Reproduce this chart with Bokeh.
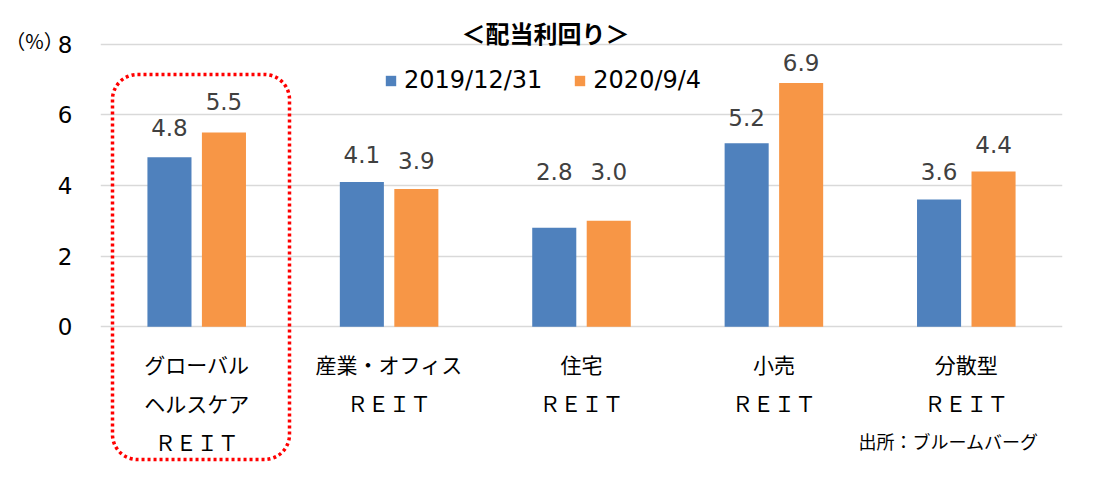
from bokeh.plotting import figure
from bokeh.models import (ColumnDataSource, FactorRange, Range1d, FixedTicker,
                          LabelSet, Legend, LegendItem)
from bokeh.transform import dodge
from bokeh.core.properties import value
from bokeh.embed import file_html
from bokeh.resources import INLINE

# ---------------- data ----------------
categories = [
    "グローバル\nヘルスケア\nＲＥＩＴ",
    "産業・オフィス\nＲＥＩＴ",
    "住宅\nＲＥＩＴ",
    "小売\nＲＥＩＴ",
    "分散型\nＲＥＩＴ",
]
series_labels = ["2019/12/31", "2020/9/4"]
yield_2019 = [4.8, 4.1, 2.8, 5.2, 3.6]
yield_2020 = [5.5, 3.9, 3.0, 6.9, 4.4]
y_ticks = [0, 2, 4, 6, 8]
title_text = "＜配当利回り＞"
unit_text = "（%）"
source_text = "出所：ブルームバーグ"

# ---------------- style / layout ----------------
BLUE = "#4F81BD"
ORANGE = "#F79646"
JP = "Noto Sans CJK JP"
NUM = "DejaVu Sans, Noto Sans CJK JP"
BAR_W = 0.229
OFF = 0.1416
Y0, Y1 = -0.05, 8.05
FRAME_L, FRAME_T, FRAME_W, FRAME_H = 100, 42, 962, 286
# pixel lift of each data label above its bar top (labels were placed by hand)
lift_2019 = [30, 27, 56, 26, 28]
lift_2020 = [31, 29, 49, 21, 27]


def px_x(px):
    """canvas pixel x -> synthetic categorical coordinate"""
    return (px - FRAME_L) / FRAME_W * len(categories)


def px_y(py):
    """canvas pixel y -> data y"""
    return Y1 - (py - FRAME_T) / FRAME_H * (Y1 - Y0)


p = figure(
    x_range=FactorRange(*categories, range_padding=0, factor_padding=0),
    y_range=Range1d(Y0, Y1),
    frame_width=FRAME_W, frame_height=FRAME_H,
    min_border_left=FRAME_L, min_border_right=41, min_border_top=FRAME_T,
    min_border_bottom=143,
    output_backend="svg", toolbar_location=None,
)
p.outline_line_color = None
p.background_fill_color = "white"
p.border_fill_color = "white"

p.xgrid.visible = False
p.ygrid.ticker = FixedTicker(ticks=y_ticks)
p.ygrid.grid_line_color = "#D9D9D9"
p.ygrid.grid_line_width = 1.5

p.yaxis.ticker = FixedTicker(ticks=y_ticks)
p.yaxis.axis_line_color = None
p.yaxis.major_tick_line_color = None
p.yaxis.minor_tick_line_color = None
p.yaxis.major_label_text_font = NUM
p.yaxis.major_label_text_font_size = "23px"
p.yaxis.major_label_text_color = "#000000"
p.yaxis.major_label_standoff = 22

p.xaxis.axis_line_color = None
p.xaxis.major_tick_line_color = None
p.xaxis.minor_tick_line_color = None
p.xaxis.major_label_text_font = JP
p.xaxis.major_label_text_font_size = "21px"
p.xaxis.major_label_text_color = "#000000"
p.xaxis.major_label_text_line_height = 1.31
p.xaxis.major_label_standoff = 14

src = ColumnDataSource(dict(cat=categories, a=yield_2019, b=yield_2020))
r1 = p.vbar(x=dodge("cat", -OFF, range=p.x_range), top="a", width=BAR_W,
            source=src, fill_color=BLUE, line_color=None)
r2 = p.vbar(x=dodge("cat", OFF, range=p.x_range), top="b", width=BAR_W,
            source=src, fill_color=ORANGE, line_color=None)

n = len(categories)
lab_src = ColumnDataSource(dict(
    x=[i + 0.5 - OFF for i in range(n)] + [i + 0.5 + OFF for i in range(n)],
    y=yield_2019 + yield_2020,
    t=[f"{v:.1f}" for v in yield_2019 + yield_2020],
    lift=lift_2019 + lift_2020,
))
p.add_layout(LabelSet(x="x", y="y", text="t", source=lab_src, y_offset="lift",
                      text_align="center", text_baseline="middle",
                      text_font=value(NUM), text_font_size=value("23px"),
                      text_color="#404040"))

legend = Legend(items=[LegendItem(label=series_labels[0], renderers=[r1]),
                       LegendItem(label=series_labels[1], renderers=[r2])],
                orientation="horizontal", location=(284, 234),
                label_text_font=NUM, label_text_font_size="24px",
                label_text_color="#000000",
                glyph_width=13, glyph_height=13, label_standoff=7, spacing=31,
                padding=0, margin=0, border_line_alpha=0, background_fill_alpha=0,
                label_height=20)
p.add_layout(legend)

# texts outside the frame: glyphs at overlay level (not clipped to the frame)
p.text(x=[px_x(545)], y=[px_y(32)], text=[title_text], text_font=value(JP),
       text_font_size="24px", text_font_style="bold", text_align="center",
       text_baseline="middle", text_color="#000000", level="overlay")
p.text(x=[px_x(34)], y=[px_y(40)], text=[unit_text], text_font=value(JP),
       text_font_size="20px", text_align="center", text_baseline="middle",
       text_color="#000000", level="overlay")
p.text(x=[px_x(1038)], y=[px_y(440)], text=[source_text], text_font=value(JP),
       text_font_size="18px", text_align="right", text_baseline="middle",
       text_color="#000000", level="overlay")

# red dotted rounded highlight box around the first category
p.quad(left=[px_x(112)], right=[px_x(289)], top=[px_y(74)], bottom=[px_y(459)],
       fill_color=None, line_color="#FF0000", line_width=3.5, line_dash="3 3",
       border_radius=25, level="overlay")

open("out.html", "w").write(file_html(p, INLINE))
